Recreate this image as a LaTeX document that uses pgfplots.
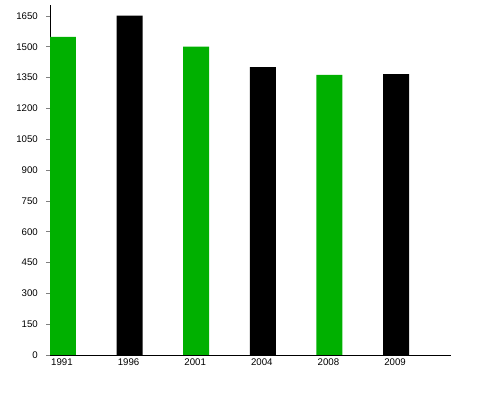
\documentclass[border=0pt]{standalone}
\usepackage{pgfplots}
\pgfplotsset{compat=1.18}
\usepackage{fontspec}
\setmainfont{Liberation Sans}
\definecolor{bargreen}{RGB}{0,176,0}
\begin{document}
\begin{tikzpicture}
\path[use as bounding box] (0,0) rectangle (500bp,400bp);
\begin{axis}[
  at={(50bp,45bp)}, anchor=south west,
  scale only axis, width=401bp, height=350bp,
  xmin=0, xmax=6.02, ymin=0, ymax=1703,
  axis x line*=bottom, axis y line*=left,
  axis line style={-, line width=0.8pt},
  xtick={0,1,2,3,4,5},
  xticklabels={1991,1996,2001,2004,2008,2009},
  ytick={0,150,...,1650},
  xtick style={draw=none},
  ytick style={line width=0.6pt},
  tick align=outside, major tick length=4bp,
  tick label style={font=\fontsize{9.7}{11}\selectfont},
  /pgf/number format/assume math mode=true,
  /pgf/number format/1000 sep={},
  yticklabel style={anchor=east, inner sep=0pt, xshift=-8bp},
  xticklabel style={anchor=north west, inner sep=0pt, xshift=1bp, yshift=0bp},
  ybar, bar width=0.39, bar shift=0.195,
]
\addplot[fill=bargreen, draw=none] coordinates {(0,1548) (2,1500) (4,1363)};
\addplot[fill=black, draw=none] coordinates {(1,1651) (3,1401) (5,1367)};
\end{axis}
\end{tikzpicture}
\end{document}
